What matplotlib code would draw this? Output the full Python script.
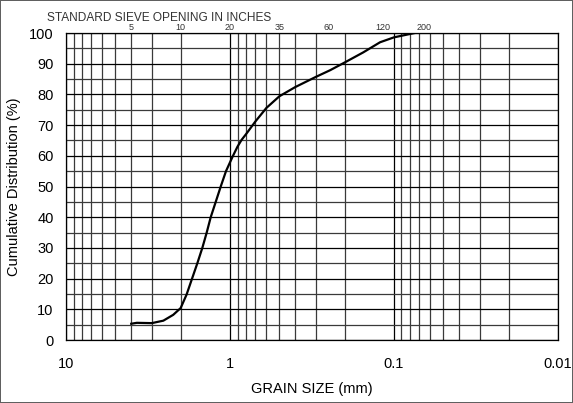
import matplotlib.pyplot as plt
from matplotlib.ticker import FixedLocator, FixedFormatter, MultipleLocator, NullFormatter

# grain size (mm) vs cumulative passing (%)
grain_mm = [4.0, 3.7, 3.0, 2.55, 2.22, 2.0, 1.84, 1.582, 1.475, 1.387, 1.311,
            1.222, 1.139, 1.058, 0.963, 0.9, 0.85, 0.8, 0.7, 0.6, 0.5, 0.4, 0.3,
            0.245, 0.2, 0.154, 0.1216, 0.1, 0.075]
passing = [5.3, 5.6, 5.5, 6.3, 8.2, 10.4, 14.8, 25.0, 30.0, 35.0, 40.0,
           45.0, 50.0, 55.0, 59.8, 63.0, 65.2, 67.0, 71.2, 75.6, 79.4, 82.4, 85.7,
           87.9, 90.4, 93.7, 97.0, 98.6, 100.0]

# sieve numbers written along the top, and where they sit (mm)
sieve_labels = ['5', '10', '20', '35', '60', '120', '200']
sieve_pos = [4.0, 2.0, 1.0, 0.5, 0.25, 0.117, 0.066]

x_ticks = [10, 1, 0.1, 0.01]
x_ticklabels = ['10', '1', '0.1', '0.01']

plt.rcParams['font.family'] = ['Liberation Sans', 'DejaVu Sans']

fig = plt.figure(figsize=(5.73, 4.03), dpi=100, linewidth=1.2, edgecolor='#606060')
ax = fig.add_axes([0.1152, 0.1563, 0.8586, 0.7617])

ax.set_xscale('log')
ax.set_xlim(10, 0.01)
ax.set_ylim(0, 100)

# grid: every log minor step and every 5 %
minor_x = [m * 10.0**e for e in (-2, -1, 0) for m in range(2, 10)]
ax.xaxis.set_major_locator(FixedLocator(x_ticks))
ax.xaxis.set_major_formatter(FixedFormatter(x_ticklabels))
ax.xaxis.set_minor_locator(FixedLocator(minor_x))
ax.xaxis.set_minor_formatter(NullFormatter())
ax.yaxis.set_major_locator(MultipleLocator(10))
ax.yaxis.set_minor_locator(MultipleLocator(5))
ax.grid(which='major', color='black', linewidth=0.9)
ax.grid(which='minor', color='#3a3a3a', linewidth=0.9)
ax.tick_params(which='both', length=0, labelsize=10.5)
ax.tick_params(axis='x', pad=12)
ax.tick_params(axis='y', pad=9)
for s in ax.spines.values():
    s.set_color('black')
    s.set_linewidth(0.9)

ax.plot(grain_mm, passing, color='black', linewidth=1.6, zorder=5,
        solid_joinstyle='round')

ax.set_xlabel('GRAIN SIZE (mm)', fontsize=10.5, labelpad=8)
ax.set_ylabel('Cumulative Distribution (%)', fontsize=10.5, labelpad=6)

for lab, pos in zip(sieve_labels, sieve_pos):
    ax.text(pos, 100.2, lab, ha='center', va='bottom', fontsize=6.5, color='#333333')

fig.text(0.082, 0.956, 'STANDARD SIEVE OPENING IN INCHES', fontsize=8.6,
         color='#333333', ha='left', va='center')

fig.savefig('out.png', dpi=100)
